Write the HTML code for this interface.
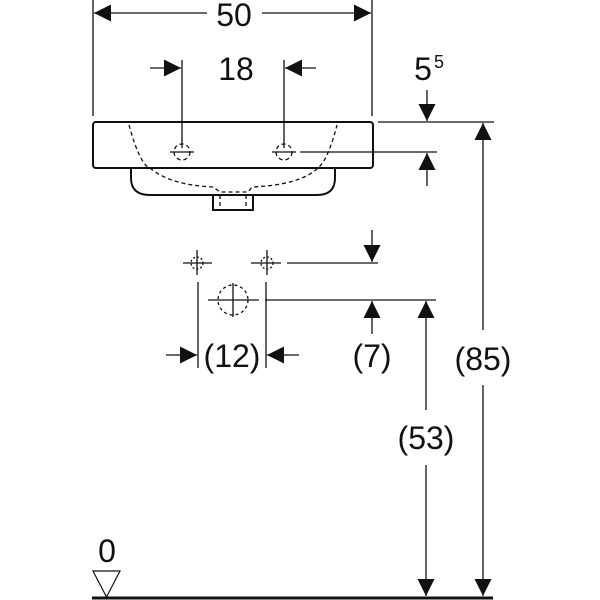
<!DOCTYPE html>
<html><head><style>body{margin:0;background:#fff}svg{display:block}text{font-family:"Liberation Sans",sans-serif;fill:#111}</style></head>
<body>
<svg width="600" height="600" viewBox="0 0 600 600" xmlns="http://www.w3.org/2000/svg">
<defs>
<marker id="a" viewBox="0 0 10 10" refX="10" refY="5" markerWidth="21" markerHeight="17" markerUnits="userSpaceOnUse" orient="auto"><path d="M0,0L10,5L0,10z" fill="#111"/></marker>
</defs>
<g stroke="#111" stroke-width="1.3" fill="none">
<line x1="93" y1="0" x2="93" y2="116"/><line x1="372" y1="0" x2="372" y2="116"/>
<line x1="207" y1="13" x2="94" y2="13" marker-end="url(#a)"/>
<line x1="262" y1="13" x2="371" y2="13" marker-end="url(#a)"/>
<line x1="182" y1="60" x2="182" y2="148"/><line x1="284" y1="60" x2="284" y2="148"/>
<line x1="150" y1="68" x2="181" y2="68" marker-end="url(#a)"/>
<line x1="316" y1="68" x2="285" y2="68" marker-end="url(#a)"/>
<line x1="427" y1="90" x2="427" y2="121" marker-end="url(#a)"/>
<line x1="378" y1="122" x2="494" y2="122"/>
<line x1="300" y1="152" x2="437" y2="152"/>
<line x1="427" y1="186" x2="427" y2="153" marker-end="url(#a)"/>
<rect x="93" y="122" width="280" height="46" rx="3" stroke-width="2"/>
<path d="M131 168 V178 Q131 195 150 195 H317 Q335 195 335 178 V168" stroke-width="2"/>
<rect x="213" y="195" width="40" height="15" stroke-width="2"/>
<g stroke-dasharray="4,3">
<path d="M129 125 Q140 165 150 168 Q170 185 213 187 L220 192 H248 L252 187 Q300 185 318 168 Q328 160 337 125"/>
<line x1="220" y1="195" x2="220" y2="210"/><line x1="246" y1="195" x2="246" y2="210"/>
<circle cx="182" cy="152" r="8"/><circle cx="284" cy="152" r="8"/>
</g>
<line x1="170" y1="152" x2="194" y2="152"/><line x1="272" y1="152" x2="296" y2="152"/>
<line x1="183" y1="263" x2="212" y2="263"/><line x1="197" y1="250" x2="197" y2="275"/>
<line x1="251" y1="263" x2="281" y2="263"/><line x1="267" y1="250" x2="267" y2="275"/>
<g stroke-dasharray="2,2"><circle cx="197" cy="263" r="6"/><circle cx="267" cy="263" r="6"/></g>
<circle cx="233" cy="300" r="15" stroke-dasharray="3,3"/>
<line x1="208" y1="300" x2="259" y2="300"/><line x1="233" y1="283" x2="233" y2="317"/>
<line x1="287" y1="263" x2="378" y2="263"/>
<line x1="372" y1="230" x2="372" y2="262" marker-end="url(#a)"/>
<line x1="265" y1="300" x2="436" y2="300"/>
<line x1="372" y1="334" x2="372" y2="301" marker-end="url(#a)"/>
<line x1="198" y1="282" x2="198" y2="368"/><line x1="266" y1="282" x2="266" y2="368"/>
<line x1="166" y1="355" x2="197" y2="355" marker-end="url(#a)"/>
<line x1="299" y1="355" x2="267" y2="355" marker-end="url(#a)"/>
<line x1="426" y1="410" x2="426" y2="301" marker-end="url(#a)"/>
<line x1="426" y1="465" x2="426" y2="596" marker-end="url(#a)"/>
<line x1="483" y1="330" x2="483" y2="123" marker-end="url(#a)"/>
<line x1="483" y1="385" x2="483" y2="596" marker-end="url(#a)"/>
<line x1="92" y1="598" x2="493" y2="598" stroke-width="3"/>
<path d="M93 571 H120 L106.5 597 Z" stroke-width="1.2"/>
</g>
<g font-size="32" text-anchor="middle">
<text x="234" y="26">50</text>
<text x="236" y="80">18</text>
<text x="423" y="80">5</text><text x="439" y="68" font-size="18">5</text>
<text x="232" y="367">(12)</text>
<text x="372" y="367">(7)</text>
<text x="426" y="449">(53)</text>
<text x="483" y="370">(85)</text>
<text x="107" y="562">0</text>
</g>
</svg>
</body></html>
